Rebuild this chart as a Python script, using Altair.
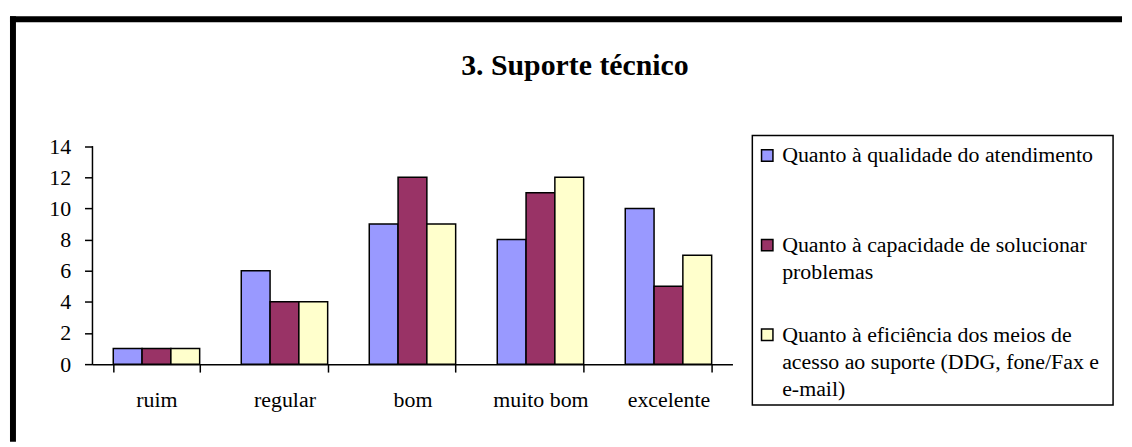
import altair as alt
import pandas as pd

# ---- data ----
categories = ["ruim", "regular", "bom", "muito bom", "excelente"]
series = [
    "Quanto à qualidade do atendimento",
    "Quanto à capacidade de solucionar problemas",
    "Quanto à eficiência dos meios de acesso ao suporte (DDG, fone/Fax e e-mail)",
]
values_qualidade = [1, 6, 9, 8, 10]
values_capacidade = [1, 4, 12, 11, 5]
values_eficiencia = [1, 4, 9, 12, 7]
colors = ["#9999FF", "#993366", "#FFFFCC"]
legend_lines = [
    ["Quanto à qualidade do atendimento"],
    ["Quanto à capacidade de solucionar", "problemas"],
    ["Quanto à eficiência dos meios de", "acesso ao suporte (DDG, fone/Fax e", "e-mail)"],
]
title_text = "3. Suporte técnico"
y_ticks = [0, 2, 4, 6, 8, 10, 12, 14]

FONT = "Liberation Serif"

rows = []
for s, vals in zip(series, [values_qualidade, values_capacidade, values_eficiencia]):
    for c, v in zip(categories, vals):
        rows.append({"categoria": c, "serie": s, "valor": v})
df = pd.DataFrame(rows)

color_scale = alt.Scale(domain=series, range=colors)
y_scale = alt.Scale(domain=[0, 14.68], nice=False, zero=True)
y_axis = alt.Axis(values=y_ticks, labelFont=FONT, labelFontSize=22, labelColor="black",
                  tickSize=8, tickColor="black", tickWidth=1.5, domain=False,
                  labelPadding=14, grid=False, labelOverlap=False, labelBound=False,
                  labelFlush=False, tickCount=8)

bars = alt.Chart(df).mark_bar(stroke="black", strokeWidth=1.5).encode(
    x=alt.X(
        "categoria:N", sort=categories, title=None,
        scale=alt.Scale(paddingInner=0.325, paddingOuter=0.1625),
        axis=alt.Axis(labelAngle=0, labelFont=FONT, labelFontSize=22, labelColor="black",
                      tickBand="extent", tickSize=8, tickColor="black", tickWidth=1.5,
                      domainColor="black", domainWidth=1.5, labelPadding=17.6, grid=False),
    ),
    xOffset=alt.XOffset("serie:N", sort=series, scale=alt.Scale(paddingInner=0, paddingOuter=0)),
    y=alt.Y("valor:Q", title=None, scale=y_scale, axis=y_axis),
    color=alt.Color("serie:N", scale=color_scale, legend=None),
)

yline_df = pd.DataFrame({"valor": [min(y_ticks)], "valor_top": [max(y_ticks)]})
yline = alt.Chart(yline_df).mark_rule(color="black", strokeWidth=1.5).encode(
    x=alt.value(0),
    y=alt.Y("valor:Q", title=None, scale=y_scale, axis=y_axis),
    y2=alt.Y2("valor_top"),
)

one = pd.DataFrame({"a": [0]})
frame_top = alt.Chart(one).mark_rule(color="black", strokeWidth=6, strokeCap="square").encode(
    x=alt.value(-80), x2=alt.value(1033), y=alt.value(-117)
)
frame_left = alt.Chart(one).mark_rule(color="black", strokeWidth=6, strokeCap="square").encode(
    x=alt.value(-80), y=alt.value(-117), y2=alt.value(305)
)

main = alt.layer(bars, yline, frame_top, frame_left).properties(
    width=644, height=230, view=alt.ViewBackground(stroke="transparent")
)

LINE = 27.5 / 104
leg_rows = []
for i, (s, lines) in enumerate(zip(series, legend_lines)):
    n = len(lines)
    for j, t in enumerate(lines):
        leg_rows.append({"serie": s, "texto": t, "pos": i + (j - (n - 1) / 2) * LINE, "first": j == 0})
leg = pd.DataFrame(leg_rows)

ypos = alt.Y("pos:Q", scale=alt.Scale(domain=[0, 2], range=[20, 228]), axis=None)
leg_text = alt.Chart(leg).mark_text(
    align="left", baseline="middle", font=FONT, fontSize=22, color="black"
).encode(x=alt.value(30), y=ypos, text="texto:N")
leg_sw = alt.Chart(leg).transform_filter("datum.first").mark_square(
    size=132, opacity=1, stroke="black", strokeWidth=1.5
).encode(x=alt.value(15), y=ypos, color=alt.Color("serie:N", scale=color_scale, legend=None))

legend = alt.layer(leg_sw, leg_text).properties(
    width=363, height=271, view=alt.ViewBackground(stroke="black", strokeWidth=1.5)
)

chart = alt.hconcat(main, legend, spacing=20, bounds="flush").properties(
    title=alt.TitleParams(title_text, font=FONT, fontSize=30, fontWeight="bold",
                          color="black", anchor="middle", offset=-67, dx=9),
    padding={"left": 0, "top": 5, "right": 0, "bottom": 0},
).resolve_scale(color="shared")

chart.save("out.html", embed_options={"renderer": "svg", "actions": False})
